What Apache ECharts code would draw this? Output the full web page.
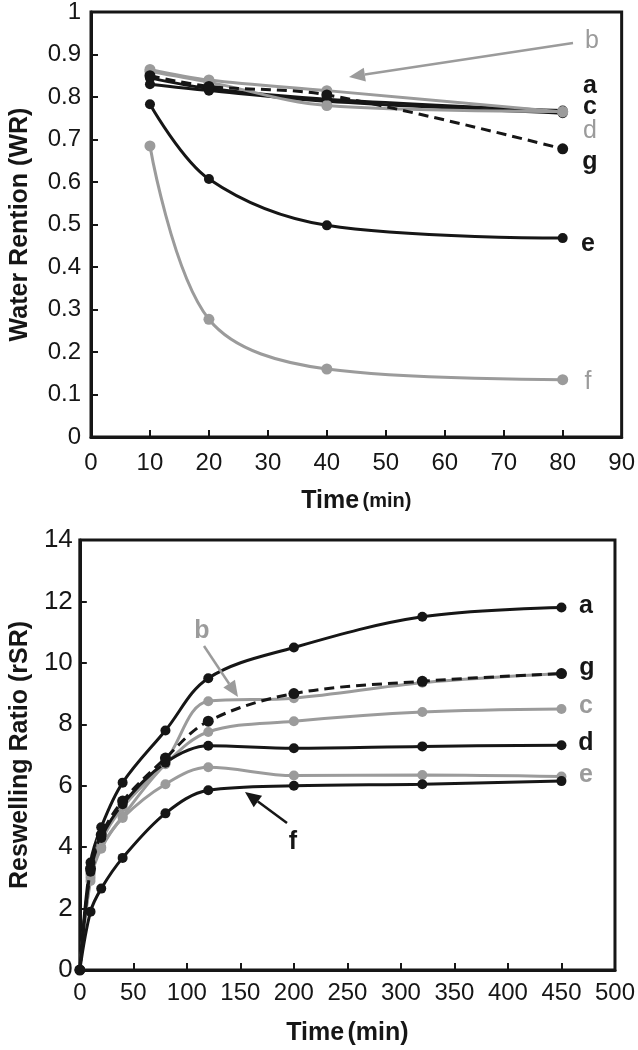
<!DOCTYPE html>
<html>
<head>
<meta charset="utf-8">
<script src="https://cdn.jsdelivr.net/npm/echarts@6/dist/echarts.min.js"></script>
<style>
html,body{margin:0;padding:0;background:#fff;}
#c{width:638px;height:1050px;}
</style>
</head>
<body>
<div id="c"></div>
<script>
// ---- Top chart: Water Rention (WR) vs Time (min)
var timeTop = [10, 20, 40, 80];
var wrA = [0.845, 0.820, 0.795, 0.768];
var wrB = [0.865, 0.840, 0.815, 0.765];
var wrC = [0.830, 0.815, 0.790, 0.762];
var wrD = [0.860, 0.835, 0.780, 0.766];
var wrE = [0.783, 0.607, 0.498, 0.468];
var wrF = [0.685, 0.277, 0.160, 0.135];
var wrG = [0.850, 0.825, 0.805, 0.678];

// ---- Bottom chart: Reswelling Ratio (rSR) vs Time (min)
var timeBot = [0, 10, 20, 40, 80, 120, 200, 320, 450];
var rsA = [0, 3.50, 4.65, 6.10, 7.80, 9.50, 10.50, 11.50, 11.80];
var rsB = [0, 3.10, 4.20, 5.30, 6.80, 8.75, 8.85, 9.35, 9.65];
var rsC = [0, 3.00, 4.00, 5.00, 6.70, 7.75, 8.10, 8.40, 8.50];
var rsD = [0, 3.20, 4.30, 5.40, 6.75, 7.30, 7.22, 7.28, 7.32];
var rsE = [0, 2.90, 3.95, 4.95, 6.05, 6.60, 6.33, 6.35, 6.30];
var rsF = [0, 1.90, 2.65, 3.65, 5.10, 5.85, 6.00, 6.05, 6.15];
var rsG = [0, 3.30, 4.40, 5.50, 6.90, 8.10, 9.00, 9.40, 9.65];

var BLACK = '#161616', GRAY = '#9b9b9b';
var FONT = 'Liberation Sans, Arial, sans-serif';

function pairs(xs, ys){ return xs.map(function(x,i){ return [x, ys[i]]; }); }

function ser(idx, name, xs, ys, color, dashed, size){
  return {
    name: name, type: 'line', xAxisIndex: idx, yAxisIndex: idx,
    data: pairs(xs, ys), smooth: 0.35, symbol: 'circle', symbolSize: size,
    lineStyle: {color: color, width: 3, type: dashed ? [10, 6] : 'solid'},
    itemStyle: {color: color}, z: dashed ? 4 : 3, animation: false
  };
}

var chart = echarts.init(document.getElementById('c'), null, {renderer: 'canvas'});

function axisCommon(){
  return {
    axisLine: {show: true, onZero: false, lineStyle: {color: BLACK, width: 3}},
    axisTick: {show: true, inside: true, length: 7, lineStyle: {color: BLACK, width: 2}},
    splitLine: {show: false},
    axisLabel: {color: BLACK, fontFamily: FONT, fontSize: 24}
  };
}

function xAx(idx, min, max, interval, gap, margin, fs){
  var a = axisCommon();
  a.type = 'value'; a.gridIndex = idx; a.min = min; a.max = max; a.interval = interval;
  a.axisLabel.margin = margin; a.axisLabel.fontSize = fs;
  a.name = '{t|Time} {m|(min)}'; a.nameLocation = 'middle'; a.nameGap = gap;
  a.nameTextStyle = {rich: {
    t: {fontFamily: FONT, fontWeight: 'bold', fontSize: 25, color: BLACK},
    m: {fontFamily: FONT, fontWeight: 'bold', fontSize: idx === 0 ? 20 : 25, color: BLACK}
  }};
  return a;
}
function yAx(idx, min, max, interval, name, gap, margin, fs){
  var a = axisCommon();
  a.type = 'value'; a.gridIndex = idx; a.min = min; a.max = max; a.interval = interval;
  a.axisLabel.margin = margin; a.axisLabel.fontSize = fs;
  a.name = name; a.nameLocation = 'middle'; a.nameRotate = 90; a.nameGap = gap;
  a.nameTextStyle = {fontFamily: FONT, fontWeight: 'bold', fontSize: 25, color: BLACK};
  return a;
}

function txt(x, y, s, color, bold, size){
  return {type: 'text', x: x, y: y, z: 20,
    style: {text: s, fill: color, font: (bold ? 'bold ' : '') + (size || 25) + 'px ' + FONT,
            textAlign: 'center', textVerticalAlign: 'middle'}};
}
function arrow(x1, y1, x2, y2, color){
  var dx = x2 - x1, dy = y2 - y1, L = Math.sqrt(dx*dx + dy*dy);
  var ux = dx / L, uy = dy / L, hl = 16, hw = 7;
  var bx = x2 - ux*hl, by = y2 - uy*hl;
  return [
    {type: 'line', z: 20, shape: {x1: x1, y1: y1, x2: bx, y2: by}, style: {stroke: color, lineWidth: 2.5}},
    {type: 'polygon', z: 20, shape: {points: [[x2, y2], [bx - uy*hw, by + ux*hw], [bx + uy*hw, by - ux*hw]]},
     style: {fill: color}}
  ];
}

var graphics = [
  // top chart labels
  txt(592, 41, 'b', GRAY, false), txt(590, 86, 'a', BLACK, true), txt(590, 107, 'c', BLACK, true),
  txt(590, 131, 'd', GRAY, false), txt(590, 162, 'g', BLACK, true), txt(588, 244, 'e', BLACK, true),
  txt(588, 382, 'f', GRAY, false),
  // bottom chart labels
  txt(586, 606, 'a', BLACK, true), txt(587, 668, 'g', BLACK, true), txt(586, 706, 'c', GRAY, true),
  txt(586, 743, 'd', BLACK, true), txt(586, 775, 'e', GRAY, true),
  txt(202, 631, 'b', GRAY, true), txt(293, 842, 'f', BLACK, true)
].concat(arrow(573, 43, 349, 77, GRAY))
 .concat(arrow(204, 646, 238, 697, GRAY))
 .concat(arrow(287, 823, 245, 792, BLACK));

var option = {
  backgroundColor: '#fff',
  animation: false,
  grid: [
    {left: 85, right: 15, top: 10, height: 427, show: true, borderColor: BLACK, borderWidth: 3},
    {left: 76, right: 17, top: 540, height: 430, show: true, borderColor: BLACK, borderWidth: 3}
  ],
  xAxis: [
    xAx(0, 0, 90, 10, 52, 14, 24),
    xAx(1, 0, 500, 50, 51, 11, 24)
  ],
  yAxis: [
    yAx(0, 0, 1, 0.1, 'Water Rention (WR)', 58, 10, 24),
    yAx(1, 0, 14, 2, 'Reswelling Ratio (rSR)', 46, 7, 26)
  ],
  series: [
    ser(0, 'a', timeTop, wrA, BLACK, false, 10),
    ser(0, 'c', timeTop, wrC, BLACK, false, 10),
    ser(0, 'e', timeTop, wrE, BLACK, false, 10),
    ser(0, 'b', timeTop, wrB, GRAY, false, 11),
    ser(0, 'd', timeTop, wrD, GRAY, false, 11),
    ser(0, 'f', timeTop, wrF, GRAY, false, 11),
    ser(0, 'g', timeTop, wrG, BLACK, true, 11),
    ser(1, 'b', timeBot, rsB, GRAY, false, 10),
    ser(1, 'c', timeBot, rsC, GRAY, false, 10),
    ser(1, 'e', timeBot, rsE, GRAY, false, 10),
    ser(1, 'a', timeBot, rsA, BLACK, false, 10),
    ser(1, 'd', timeBot, rsD, BLACK, false, 10),
    ser(1, 'f', timeBot, rsF, BLACK, false, 10),
    ser(1, 'g', timeBot, rsG, BLACK, true, 11)
  ],
  graphic: graphics
};
chart.setOption(option);
</script>
</body>
</html>
